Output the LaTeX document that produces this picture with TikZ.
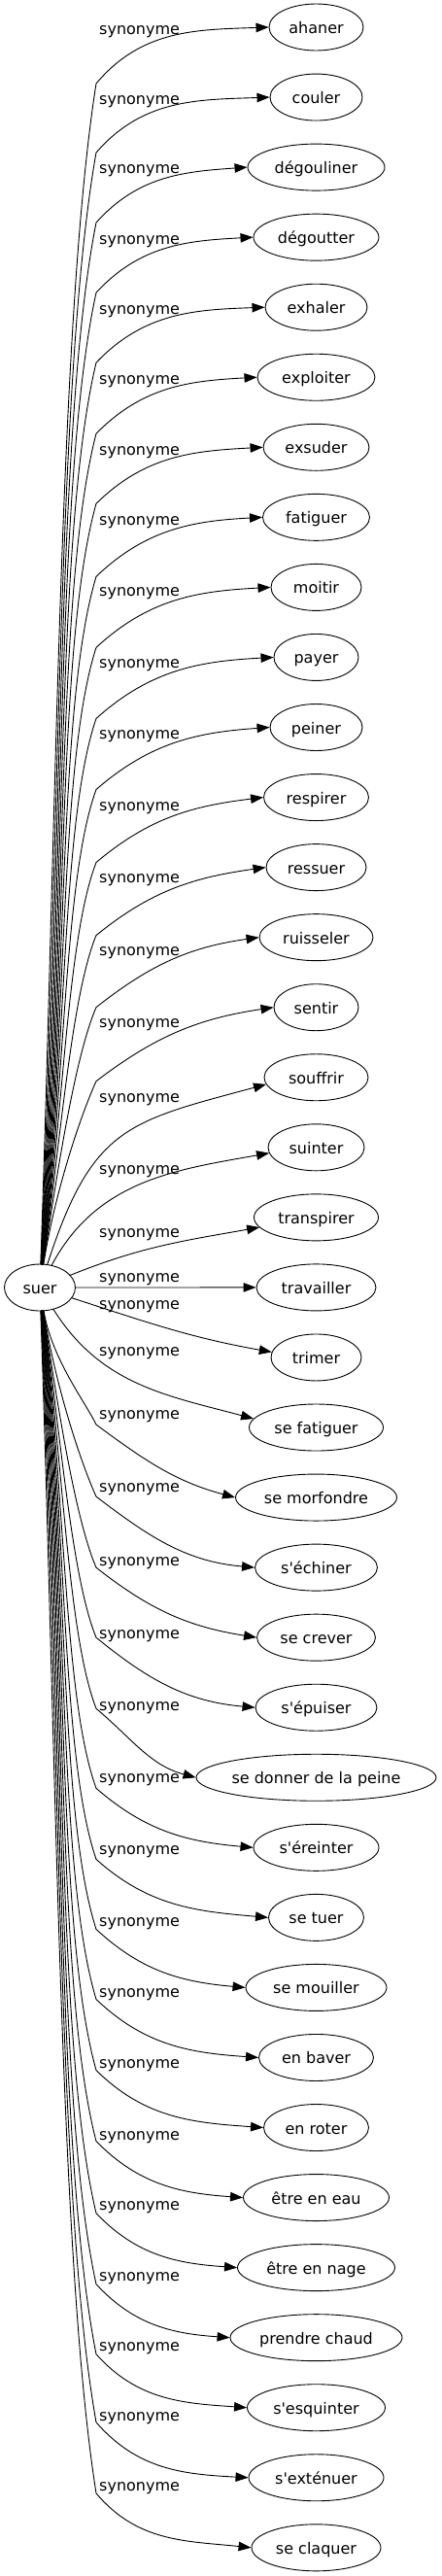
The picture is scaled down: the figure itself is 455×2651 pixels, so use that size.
\documentclass[tikz,border=0pt]{standalone}
\usepackage{fontspec}
\setmainfont{DejaVu Sans}[Ligatures=TeXOff]
\usetikzlibrary{shapes.geometric,arrows.meta}

\begin{document}
\begin{tikzpicture}[line cap=round,line join=round,>={Triangle[length=13pt,width=9.5pt]}
  ,x=1pt,y=1pt,font=\fontsize{16}{19}\selectfont
  ,word/.style={draw,line width=0.9pt,ellipse,minimum height=48pt,inner xsep=-8pt,inner ysep=0pt,text height=13pt,text depth=0pt}
  ,rel/.style={anchor=base west,inner sep=0pt}
  ,link/.style={->,line width=0.9pt}]
  \useasboundingbox (0,0) rectangle (455,-2651);
  \node[word,minimum width=73pt] (suer) at (41,-1325) {suer};
  \foreach \txt/\w/\ly [count=\i from 0] in {ahaner/97/30,couler/95/102,dégouliner/141/173,
    dégoutter/129/246,exhaler/105/318,exploiter/121/390,exsuder/109/463,fatiguer/110/535,
    moitir/93/608,payer/87/682,peiner/95/755,respirer/108/829,ressuer/103/903,
    ruisseler/117/978,sentir/87/1052,souffrir/107/1129,suinter/99/1203,transpirer/128/1268,
    travailler/123/1314,trimer/93/1342,se fatiguer/138/1390,se morfondre/166/1455,
    s'échiner/126/1530,se crever/122/1606,s'épuiser/125/1681,se donner de la peine/247/1755,
    s'éreinter/129/1829,se tuer/98/1903,se mouiller/145/1977,en baver/118/2050,
    en roter/108/2123,être en eau/150/2197,être en nage/162/2269,prendre chaud/177/2342,
    s'esquinter/142/2414,s'exténuer/139/2486,se claquer/133/2558}
  {
    \node[word,minimum width=\w pt] (n\i) at (325.5,{-28-72.05*\i}) {\txt};
    \node[rel] (lab\i) at (102,{-\ly-5.5}) {synonyme};
  }
  % upper fan
  \foreach \i/\w/\dd/\aa in {0/97/58/2,1/95/57/2,2/141/57/4,3/129/57/3,4/105/57/2,
    5/121/58/3,6/109/58/3,7/110/61/3,8/93/62/3,9/87/63/3,10/95/64/4,11/108/67/7,
    12/103/70/8,13/117/72/8,14/87/76/8.5}
  {
    \pgfmathsetmacro\yn{-28-72.05*\i}
    \pgfmathsetmacro\yb{\yn-\dd}
    \pgfmathsetmacro\so{88-0.5*\i}
    \pgfmathsetmacro\rs{876/sqrt((24*cos(\so))^2+(36.5*sin(\so))^2)}
    \pgfmathsetmacro\sx{\rs*cos(\so)}
    \pgfmathsetmacro\sy{\rs*sin(\so)}
    \pgfmathsetmacro\la{0.3915*veclen(58-\sx,\yb+1325-\sy)}
    \pgfmathsetmacro\lb{0.5*\la}
    \pgfmathsetmacro\lc{0.3915*veclen(226.5-\w/2,\yn-\yb)}
    \pgfmathsetmacro\si{-99-1.1*\i}
    \pgfmathsetmacro\bo{50-0.9*\i}
    \pgfmathsetmacro\ti{180+\aa}
    \coordinate (b\i) at (99,\yb);
    \draw[link] ([shift={(\sx,\sy)}]suer.center) .. controls +(\so:\la) and +(\si:\lb) .. (b\i)
      .. controls +(\bo:\lc) and +(\ti:\lc) .. (n\i.west);
  }
  % lower fan
  \foreach \i/\w/\dd/\aa in {21/166/75/15,22/126/73/5,23/122/72/9,24/125/72/5,
    25/247/71/15,26/129/61/5,27/98/60/5,28/145/60/5,29/118/60/4,30/108/59/4,
    31/150/58/4,32/162/56/4,33/177/55/4,34/142/55/4,35/139/57/3,36/133/56/6}
  {
    \pgfmathsetmacro\kk{36-\i}
    \pgfmathsetmacro\yn{-28-72.05*\i}
    \pgfmathsetmacro\yb{\yn+\dd}
    \pgfmathsetmacro\so{-88+0.5*\kk}
    \pgfmathsetmacro\rs{876/sqrt((24*cos(\so))^2+(36.5*sin(\so))^2)}
    \pgfmathsetmacro\sx{\rs*cos(\so)}
    \pgfmathsetmacro\sy{\rs*sin(\so)}
    \pgfmathsetmacro\la{0.3915*veclen(58-\sx,\yb+1325-\sy)}
    \pgfmathsetmacro\lb{0.5*\la}
    \pgfmathsetmacro\lc{0.3915*veclen(226.5-\w/2,\yn-\yb)}
    \pgfmathsetmacro\si{99+1.1*\kk}
    \pgfmathsetmacro\bo{-50+0.9*\kk}
    \pgfmathsetmacro\ti{180-\aa}
    \coordinate (b\i) at (99,\yb);
    \draw[link] ([shift={(\sx,\sy)}]suer.center) .. controls +(\so:\la) and +(\si:\lb) .. (b\i)
      .. controls +(\bo:\lc) and +(\ti:\lc) .. (n\i.west);
  }
  % middle edges
  \draw[link] ([shift={(7.63,23.47)}]suer.center) .. controls +(72:148.8) and +(195:148.8)
    .. ([shift={(2.45,-7.17)}]n15.west);
  \draw[link] ([shift={(12.05,22.66)}]suer.center) .. controls +(62:98.9) and +(190:98.9)
    .. ([shift={(1.51,-5.89)}]n16.west);
  \draw[link] ([shift={(31.1,12.56)}]suer.center) .. controls +(22:78.9) and +(190:78.9)
    .. ([shift={(6.1,-10.2)}]n17.west);
  \draw[link] (suer.east) -- (n18.west);
  \draw[link] ([shift={(32.72,-10.63)}]suer.center) .. controls +(-18:83.7) and +(170:83.7)
    .. ([shift={(1.25,5.56)}]n19.west);
  \draw[link] ([shift={(13.87,-22.2)}]suer.center) .. controls +(-58:92.2) and +(165:92.2)
    .. ([shift={(5.03,8.99)}]n20.west);
\end{tikzpicture}
\end{document}
